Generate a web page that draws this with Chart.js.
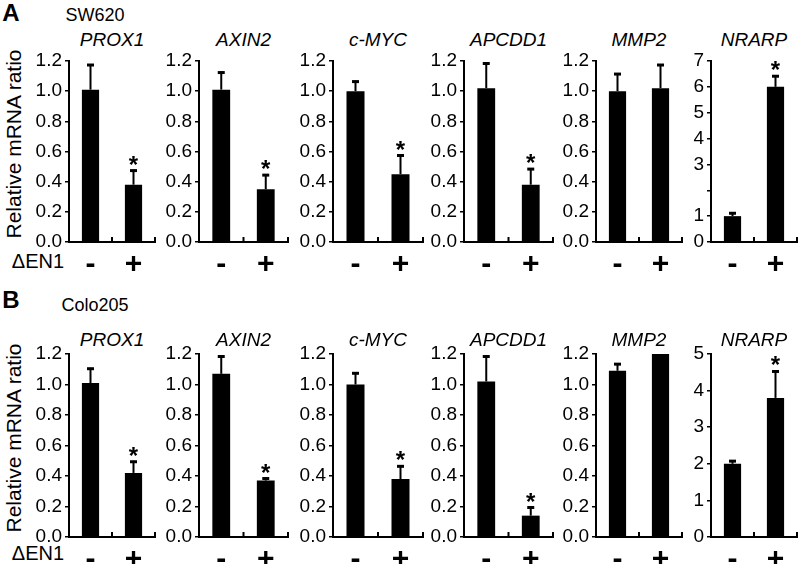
<!DOCTYPE html>
<html>
<head>
<meta charset="utf-8">
<script src="https://cdn.jsdelivr.net/npm/chart.js@4.4.0/dist/chart.umd.min.js"></script>
<style>
  body { margin: 0; background: #fff; }
  #figure {
    position: relative;
    width: 799px;
    height: 564px;
    overflow: hidden;
    font-family: Arial, 'Liberation Sans', sans-serif;
    color: #000;
  }
  #figure canvas { position: absolute; }
  .txt {
    position: absolute;
    white-space: nowrap;
    line-height: 1;
    transform: translate(-50%, -50%);
  }
  .letter { font-size: 24px; font-weight: bold; }
  .cell { font-size: 18px; }
  .gene { font-size: 19px; font-style: italic; }
  .cond { font-size: 20px; }
  .ylab { font-size: 21px; transform: translate(-50%, -50%) rotate(-90deg); }
</style>
</head>
<body>
<div id="figure"></div>
<script>
// values
const genes = ['PROX1', 'AXIN2', 'c-MYC', 'APCDD1', 'MMP2', 'NRARP']
const treatment = ['-', '+']

const sw620Means = [[1.01, 0.38], [1.01, 0.35], [1.0, 0.45], [1.02, 0.38], [1.0, 1.02], [1.0, 6.0]]
const sw620Errors = [[0.17, 0.10], [0.12, 0.10], [0.07, 0.13], [0.17, 0.11], [0.12, 0.16], [0.15, 0.45]]
const sw620Stars = [[0, 1], [0, 1], [0, 1], [0, 1], [0, 0], [0, 1]]
const sw620YMax = [1.2, 1.2, 1.2, 1.2, 1.2, 7]

const colo205Means = [[1.01, 0.42], [1.07, 0.37], [1.0, 0.38], [1.02, 0.14], [1.09, 1.2], [2.0, 3.8]]
const colo205Errors = [[0.10, 0.08], [0.12, 0.02], [0.08, 0.09], [0.17, 0.06], [0.05, 0], [0.10, 0.75]]
const colo205Stars = [[0, 1], [0, 1], [0, 1], [0, 1], [0, 0], [0, 1]]
const colo205YMax = [1.2, 1.2, 1.2, 1.2, 1.2, 5]

const ratioTicks = ['0.0', '0.2', '0.4', '0.6', '0.8', '1.0', '1.2']
const sw620NrarpTicks = ['0', '1', '', '3', '4', '5', '6', '7']
const colo205NrarpTicks = ['0', '1', '2', '3', '4', '5']

// layout
const panelAxisX = [69, 199, 333, 464, 596, 711]
const panelPlotWidth = [86, 89, 90, 89, 86, 86]
const Y_AXIS_WIDTH = 48
const X_AXIS_HEIGHT = 34
const PAD_TOP = 20
const PAD_RIGHT = 3
const FONT = 'Arial, "Liberation Sans", sans-serif'

const rows = [
  {
    letter: 'A', cellLine: 'SW620', plotTop: 61, plotHeight: 181,
    letterY: 13, cellY: 15, titleY: 39, conditionY: 261,
    means: sw620Means, errors: sw620Errors, stars: sw620Stars,
    yMax: sw620YMax, lastTicks: sw620NrarpTicks
  },
  {
    letter: 'B', cellLine: 'Colo205', plotTop: 354, plotHeight: 183,
    letterY: 300, cellY: 305, titleY: 339, conditionY: 553,
    means: colo205Means, errors: colo205Errors, stars: colo205Stars,
    yMax: colo205YMax, lastTicks: colo205NrarpTicks
  }
]

const figure = document.getElementById('figure')

function addText (text, x, y, cls) {
  const el = document.createElement('div')
  el.className = 'txt ' + cls
  el.textContent = text
  el.style.left = x + 'px'
  el.style.top = y + 'px'
  figure.appendChild(el)
  return el
}

// upward error bars with caps, plus significance stars
const errorBarPlugin = {
  id: 'errorBars',
  afterDatasetsDraw (chart) {
    const { ctx, scales: { y } } = chart
    const dataset = chart.data.datasets[0]
    const meta = chart.getDatasetMeta(0)
    ctx.save()
    ctx.strokeStyle = '#000'
    ctx.fillStyle = '#000'
    meta.data.forEach((bar, i) => {
      const err = dataset.errors[i]
      const top = y.getPixelForValue(dataset.data[i] + err)
      if (err > 0) {
        ctx.lineWidth = 2
        ctx.beginPath()
        ctx.moveTo(bar.x, bar.y)
        ctx.lineTo(bar.x, top)
        ctx.stroke()
        ctx.lineWidth = 3
        ctx.beginPath()
        ctx.moveTo(bar.x - 3.5, top + 1)
        ctx.lineTo(bar.x + 3.5, top + 1)
        ctx.stroke()
      }
      if (dataset.stars[i]) {
        ctx.font = 'bold 24px ' + FONT
        ctx.textAlign = 'center'
        ctx.textBaseline = 'alphabetic'
        ctx.fillText('*', bar.x, top + 3)
      }
    })
    ctx.restore()
  }
}

// small upward ticks at the category boundaries of the x axis
const boundaryTickPlugin = {
  id: 'boundaryTicks',
  afterDraw (chart) {
    const { ctx, chartArea, scales: { x } } = chart
    const mid = (x.getPixelForValue(0) + x.getPixelForValue(1)) / 2
    ctx.save()
    ctx.strokeStyle = '#000'
    ctx.lineWidth = 2
    ;[mid, chartArea.right].forEach(px => {
      ctx.beginPath()
      ctx.moveTo(px, chartArea.bottom)
      ctx.lineTo(px, chartArea.bottom - 5)
      ctx.stroke()
    })
    ctx.restore()
  }
}

function buildPanel (row, index) {
  const canvas = document.createElement('canvas')
  const width = Y_AXIS_WIDTH + panelPlotWidth[index] + PAD_RIGHT
  const height = PAD_TOP + row.plotHeight + X_AXIS_HEIGHT
  canvas.width = width
  canvas.height = height
  canvas.style.width = width + 'px'
  canvas.style.height = height + 'px'
  canvas.style.left = (panelAxisX[index] - Y_AXIS_WIDTH) + 'px'
  canvas.style.top = (row.plotTop - PAD_TOP) + 'px'
  figure.appendChild(canvas)

  const isRatio = row.yMax[index] <= 2
  const tickLabels = isRatio ? ratioTicks : row.lastTicks

  return new Chart(canvas.getContext('2d'), {
    type: 'bar',
    data: {
      labels: treatment,
      datasets: [
        {
          data: row.means[index],
          errors: row.errors[index],
          stars: row.stars[index],
          backgroundColor: '#000',
          borderWidth: 0,
          categoryPercentage: 1,
          barPercentage: 0.4
        }
      ]
    },
    options: {
      responsive: false,
      animation: false,
      events: [],
      layout: { padding: { top: PAD_TOP, right: PAD_RIGHT, left: 0, bottom: 0 } },
      plugins: {
        legend: { display: false },
        tooltip: { enabled: false },
        title: { display: false }
      },
      scales: {
        x: {
          grid: { display: false },
          border: { display: true, color: '#000', width: 2 },
          ticks: {
            color: '#000',
            font: { family: FONT, size: 30, weight: 'bold' },
            padding: -3,
            maxRotation: 0
          },
          afterFit (scale) { scale.height = X_AXIS_HEIGHT }
        },
        y: {
          min: 0,
          max: row.yMax[index],
          ticks: {
            stepSize: isRatio ? 0.2 : 1,
            color: '#000',
            font: { family: FONT, size: 19 },
            padding: 3,
            callback: (value, i) => tickLabels[i]
          },
          grid: { drawOnChartArea: false, color: '#000', lineWidth: 1.5, tickLength: 4 },
          border: { color: '#000', width: 2 },
          afterFit (scale) { scale.width = Y_AXIS_WIDTH }
        }
      }
    },
    plugins: [errorBarPlugin, boundaryTickPlugin]
  })
}

rows.forEach(row => {
  addText(row.letter, 11, row.letterY, 'letter')
  addText(row.cellLine, 95, row.cellY, 'cell')
  addText('Relative mRNA ratio', 13, row.plotTop + row.plotHeight / 2 - 8, 'ylab')
  addText('\u0394EN1', 38, row.conditionY, 'cond')
  genes.forEach((gene, i) => {
    addText(gene, panelAxisX[i] + panelPlotWidth[i] / 2, row.titleY, 'gene')
    buildPanel(row, i)
  })
})
</script>
</body>
</html>
